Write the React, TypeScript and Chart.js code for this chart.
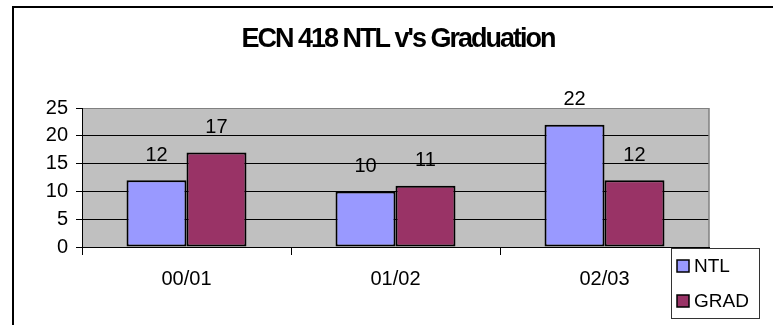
import { useEffect, useRef } from 'react';
import { Chart, registerables } from 'chart.js';

Chart.register(...registerables);

const categories = ['00/01', '01/02', '02/03'];
const seriesNames = ['NTL', 'GRAD'];
const ntlValues = [12, 10, 22];
const gradValues = [17, 11, 12];
const yTickValues = [0, 5, 10, 15, 20, 25];
const titleText = "ECN 418 NTL v's Graduation";
const seriesColors = ['#9999FF', '#993366'];

const FONT = '"Liberation Sans", Arial, Helvetica, sans-serif';

const decorPlugin = {
  id: 'decor',
  beforeDraw(chart: any) {
    const { ctx, chartArea: a, width, height } = chart;
    ctx.save();
    ctx.fillStyle = '#ffffff';
    ctx.fillRect(0, 0, width, height);
    ctx.fillStyle = '#C0C0C0';
    ctx.fillRect(a.left, a.top, a.right - a.left, a.bottom - a.top);
    // outer frame
    ctx.strokeStyle = '#000';
    ctx.lineWidth = 2;
    ctx.beginPath();
    ctx.moveTo(13, height);
    ctx.lineTo(13, 7);
    ctx.lineTo(width, 7);
    ctx.stroke();
    ctx.restore();
  },
  afterDatasetsDraw(chart: any) {
    const { ctx } = chart;
    ctx.save();
    ctx.fillStyle = '#000';
    ctx.font = `20px ${FONT}`;
    ctx.textAlign = 'center';
    ctx.textBaseline = 'middle';
    chart.data.datasets.forEach((ds: any, i: number) => {
      const meta = chart.getDatasetMeta(i);
      meta.data.forEach((bar: any, j: number) => {
        ctx.fillText(String(ds.data[j]), bar.x, bar.y - 25);
      });
    });
    ctx.restore();
  },
  afterDraw(chart: any) {
    const { ctx, chartArea: a } = chart;
    ctx.save();
    // right border of plot
    ctx.strokeStyle = '#808080';
    ctx.lineWidth = 1.5;
    ctx.beginPath();
    ctx.moveTo(a.right, a.top);
    ctx.lineTo(a.right, a.bottom);
    ctx.stroke();
    // title
    ctx.fillStyle = '#000';
    ctx.font = `bold 27px ${FONT}`;
    (ctx as any).letterSpacing = '-2px';
    ctx.textAlign = 'center';
    ctx.textBaseline = 'middle';
    ctx.fillText(titleText, 398, 40);
    (ctx as any).letterSpacing = '0px';
    // legend
    const lx = 671, ly = 248, lw = 88, lh = 70;
    ctx.fillStyle = '#fff';
    ctx.fillRect(lx, ly, lw, lh);
    ctx.strokeStyle = '#333';
    ctx.lineWidth = 1;
    ctx.strokeRect(lx + 0.5, ly + 0.5, lw, lh);
    ctx.font = `19px ${FONT}`;
    ctx.textAlign = 'left';
    chart.data.datasets.forEach((ds: any, i: number) => {
      const cy = ly + 18 + i * 35;
      ctx.fillStyle = ds.backgroundColor;
      ctx.fillRect(lx + 6, cy - 6, 12, 12);
      ctx.strokeStyle = '#000';
      ctx.lineWidth = 1.5;
      ctx.strokeRect(lx + 6, cy - 6, 12, 12);
      ctx.fillStyle = '#000';
      ctx.textBaseline = 'middle';
      ctx.fillText(ds.label, lx + 23, cy + 1);
    });
    ctx.restore();
  },
};

export default function App() {
  const ref = useRef<HTMLCanvasElement>(null);
  useEffect(() => {
    const chart = new Chart(ref.current!, {
      type: 'bar',
      data: {
        labels: categories,
        datasets: [
          {
            label: seriesNames[0],
            data: ntlValues,
            backgroundColor: seriesColors[0],
            borderColor: '#000',
            borderWidth: 2,
            borderSkipped: false,
            categoryPercentage: 0.574,
            barPercentage: 1,
          },
          {
            label: seriesNames[1],
            data: gradValues,
            backgroundColor: seriesColors[1],
            borderColor: '#000',
            borderWidth: 2,
            borderSkipped: false,
            categoryPercentage: 0.574,
            barPercentage: 1,
          },
        ],
      },
      options: {
        responsive: false,
        animation: false,
        devicePixelRatio: 1,
        layout: { padding: { left: 0, top: 108, right: 64, bottom: 0 } },
        plugins: {
          legend: { display: false },
          title: { display: false },
          tooltip: { enabled: false },
        },
        scales: {
          x: {
            grid: {
              offset: true,
              drawOnChartArea: false,
              drawTicks: true,
              tickLength: 8,
              tickColor: '#000',
              tickWidth: 1,
            },
            border: { color: '#000', width: 1 },
            ticks: {
              color: '#000',
              font: { family: FONT, size: 20 },
              padding: 12,
              maxRotation: 0,
            },
            afterFit: (s: any) => {
              s.height = 78;
            },
          },
          y: {
            min: 0,
            max: 25,
            afterBuildTicks: (s: any) => {
              s.ticks = yTickValues.map((v) => ({ value: v }));
            },
            ticks: {
              color: '#000',
              font: { family: FONT, size: 20 },
              padding: 8,
            },
            grid: {
              color: (c: any) => (c.tick && c.tick.value === 25 ? '#808080' : '#000'),
              tickColor: '#000',
              tickLength: 6,
              lineWidth: 1,
            },
            border: { color: '#000', width: 1 },
            afterFit: (s: any) => {
              s.width = 82;
            },
          },
        },
      },
      plugins: [decorPlugin],
    });
    return () => chart.destroy();
  }, []);
  return (
    <div style={{ position: 'fixed', left: 0, top: 0, width: 773, height: 325, background: '#fff' }}>
      <canvas ref={ref} width={773} height={325} style={{ width: 773, height: 325, display: 'block' }} />
    </div>
  );
}
